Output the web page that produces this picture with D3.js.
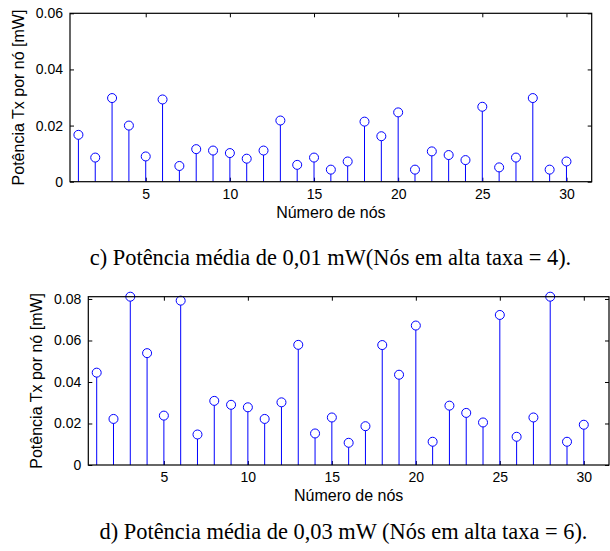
<!DOCTYPE html>
<html>
<head>
<meta charset="utf-8">
<script src="https://cdn.jsdelivr.net/npm/d3@7"></script>
<style>
  body { margin: 0; background: #fff; }
  svg { display: block; }
</style>
</head>
<body>
<svg id="chart" width="610" height="551"></svg>
<script>

// data
let nodes = [1, 2, 3, 4, 5, 6, 7, 8, 9, 10, 11, 12, 13, 14, 15,
             16, 17, 18, 19, 20, 21, 22, 23, 24, 25, 26, 27, 28, 29, 30]

let powerC = [0.0167, 0.0086, 0.0298, 0.0200, 0.0090, 0.0293, 0.0056, 0.0116, 0.0111, 0.0102,
              0.0082, 0.0111, 0.0218, 0.0060, 0.0086, 0.0043, 0.0072, 0.0214, 0.0162, 0.0247,
              0.0043, 0.0108, 0.0095, 0.0077, 0.0267, 0.0051, 0.0086, 0.0298, 0.0043, 0.0072]

let powerD = [0.0445, 0.0222, 0.0811, 0.0539, 0.0238, 0.0792, 0.0147, 0.0309, 0.0290, 0.0278,
              0.0222, 0.0302, 0.0579, 0.0152, 0.0229, 0.0107, 0.0187, 0.0578, 0.0435, 0.0672,
              0.0112, 0.0286, 0.0251, 0.0205, 0.0723, 0.0136, 0.0229, 0.0811, 0.0112, 0.0194]

let xTicks = [5, 10, 15, 20, 25, 30]
let yTicksC = [0, 0.02, 0.04, 0.06]
let yTicksD = [0, 0.02, 0.04, 0.06, 0.08]

let xLabel = "Número de nós"
let yLabel = "Potência Tx por nó [mW]"
let captionC = "c) Potência média de 0,01 mW(Nós em alta taxa = 4)."
let captionD = "d) Potência média de 0,03 mW (Nós em alta taxa = 6)."

let svg = d3.select("#chart")

function fmt(d){
    return d === 0 ? "0" : d.toFixed(2)
}

function stem_panel(opts){

    let x = d3.scaleLinear().domain([0.5, 31.5]).range([opts.left, opts.right])
    let y = d3.scaleLinear().domain(opts.yDomain).range([opts.bottom, opts.top])

    let g = svg.append('g')

    // AXES (ticks inside, like matlab)
    g.append('g')
        .attr('transform', `translate(0, ${opts.bottom})`)
        .call(d3.axisBottom(x).tickValues(xTicks).tickSizeInner(-4).tickSizeOuter(0).tickPadding(7).tickFormat(d3.format('d')))
        .call(a => a.select('.domain').remove())
        .attr('font-family', 'Liberation Sans, Arial, sans-serif')
        .attr('font-size', 14)
        .attr('color', '#000')

    g.append('g')
        .attr('transform', `translate(0, ${opts.top})`)
        .call(d3.axisTop(x).tickValues(xTicks).tickSizeInner(-4).tickSizeOuter(0).tickFormat(''))
        .call(a => a.select('.domain').remove())
        .attr('color', '#000')

    g.append('g')
        .attr('transform', `translate(${opts.left}, 0)`)
        .call(d3.axisLeft(y).tickValues(opts.yTicks).tickSizeInner(-4).tickSizeOuter(0).tickPadding(7).tickFormat(fmt))
        .call(a => a.select('.domain').remove())
        .attr('font-family', 'Liberation Sans, Arial, sans-serif')
        .attr('font-size', 14)
        .attr('color', '#000')

    g.append('g')
        .attr('transform', `translate(${opts.right}, 0)`)
        .call(d3.axisRight(y).tickValues(opts.yTicks).tickSizeInner(-4).tickSizeOuter(0).tickFormat(''))
        .call(a => a.select('.domain').remove())
        .attr('color', '#000')

    // STEMS
    let pts = nodes.map((n, i) => ({n: n, v: opts.values[i]}))

    g.selectAll('.stem')
        .data(pts)
        .enter()
        .append('line')
            .classed('stem', true)
            .attr('x1', d => x(d.n))
            .attr('x2', d => x(d.n))
            .attr('y1', y(0))
            .attr('y2', d => y(d.v) + 4.5)
            .attr('stroke', '#0000ff')
            .attr('stroke-width', 1)

    g.selectAll('.marker')
        .data(pts)
        .enter()
        .append('circle')
            .classed('marker', true)
            .attr('cx', d => x(d.n))
            .attr('cy', d => y(d.v))
            .attr('r', 4.5)
            .attr('fill', 'none')
            .attr('stroke', '#0000ff')
            .attr('stroke-width', 1)

    // BOX
    g.append('rect')
        .attr('x', opts.left)
        .attr('y', opts.top)
        .attr('width', opts.right - opts.left)
        .attr('height', opts.bottom - opts.top)
        .attr('fill', 'none')
        .attr('stroke', '#000')
        .attr('stroke-width', 1.2)

    // LABELS
    g.append('text')
        .attr('x', (opts.left + opts.right) / 2)
        .attr('y', opts.bottom + 36)
        .attr('text-anchor', 'middle')
        .attr('font-family', 'Liberation Sans, Arial, sans-serif')
        .attr('font-size', 16)
        .text(xLabel)

    g.append('text')
        .attr('transform', `translate(${opts.yLabelX}, ${(opts.top + opts.bottom) / 2}) rotate(-90)`)
        .attr('text-anchor', 'middle')
        .attr('font-family', 'Liberation Sans, Arial, sans-serif')
        .attr('font-size', 16)
        .text(yLabel)

    g.append('text')
        .attr('x', opts.captionX)
        .attr('y', opts.captionY)
        .attr('text-anchor', 'middle')
        .attr('font-family', 'Liberation Serif, Times New Roman, serif')
        .attr('font-size', 22.4)
        .text(opts.caption)
}

stem_panel({
    left: 70, right: 591.7, top: 13.3, bottom: 181.7,
    yDomain: [0, 0.06], yTicks: yTicksC, values: powerC,
    yLabelX: 24, caption: captionC, captionX: 330.5, captionY: 265
})

stem_panel({
    left: 88.3, right: 609, top: 296.7, bottom: 465,
    yDomain: [0, 0.0811], yTicks: yTicksD, values: powerD,
    yLabelX: 42, caption: captionD, captionX: 343.5, captionY: 539
})

</script>
</body>
</html>
